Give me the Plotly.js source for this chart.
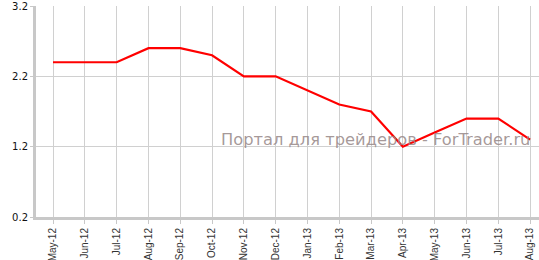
<!DOCTYPE html>
<html><head><meta charset="utf-8">
<script src="https://cdn.plot.ly/plotly-3.0.1.min.js"></script>
<style>html,body{margin:0;padding:0;background:#fff}#chart{width:539px;height:260px}</style>
</head><body><div id="chart"></div>
<script>
const months = ["May-12","Jun-12","Jul-12","Aug-12","Sep-12","Oct-12","Nov-12","Dec-12","Jan-13","Feb-13","Mar-13","Apr-13","May-13","Jun-13","Jul-13","Aug-13"];
const values = [2.4,2.4,2.4,2.6,2.6,2.5,2.2,2.2,2.0,1.8,1.7,1.2,1.4,1.6,1.6,1.3];
const yTicks = [0.2,1.2,2.2,3.2];
const watermark = "Портал для трейдеров - ForTrader.ru";

Plotly.newPlot('chart', [{
  x: months, y: values, type: 'scatter', mode: 'lines',
  line: {color: '#ff0000', width: 2.2}, hoverinfo: 'skip'
}], {
  width: 539, height: 260,
  margin: {l: 36, r: 0, t: 6, b: 43, pad: 0},
  paper_bgcolor: '#fff', plot_bgcolor: '#fff',
  showlegend: false,
  xaxis: {
    type: 'category', range: [-0.535, 15.28],
    tickangle: -90, tickfont: {family: 'Liberation Sans, Arial', size: 10, color: '#333'},
    showgrid: true, gridcolor: '#d0d0d0', gridwidth: 1,
    showline: true, linecolor: '#c8c8c8', linewidth: 3,
    ticks: 'outside', ticklen: 4, tickcolor: '#c8c8c8', tickwidth: 1,
    zeroline: false, fixedrange: true
  },
  yaxis: {
    range: [0.2, 3.2], tickvals: yTicks, ticktext: yTicks.map(v => v.toFixed(1)),
    tickfont: {family: 'DejaVu Sans, Verdana', size: 10, color: '#111'},
    ticklabeloverflow: 'allow',
    showgrid: true, gridcolor: '#d0d0d0', gridwidth: 1,
    showline: true, linecolor: '#c8c8c8', linewidth: 3,
    ticks: 'outside', ticklen: 3, tickcolor: '#c8c8c8', tickwidth: 1,
    zeroline: false, fixedrange: true
  },
  annotations: [{
    text: watermark, xref: 'paper', yref: 'paper',
    x: 0.986, y: 0.366, xanchor: 'right', yanchor: 'middle', showarrow: false,
    font: {family: 'DejaVu Sans', size: 16.3, color: 'rgba(150,135,135,0.85)'}
  }]
}, {displayModeBar: false, staticPlot: true});
</script></body></html>
